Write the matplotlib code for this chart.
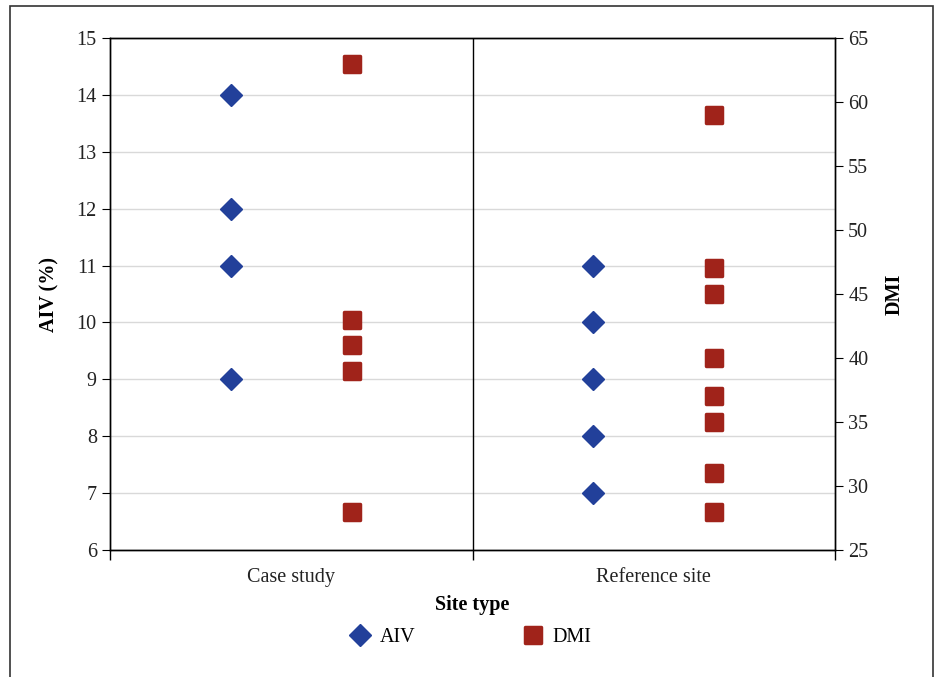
import numpy as np
import matplotlib.pyplot as plt
from matplotlib.markers import MarkerStyle
from matplotlib.patches import Rectangle

plt.rcParams['font.family'] = ['Liberation Serif', 'DejaVu Serif']

# data
categories = ['Case study', 'Reference site']
aiv_case = [14, 12, 11, 9]
aiv_ref = [11, 10, 9, 8, 7]
dmi_case = [63, 43, 41, 39, 28]
dmi_ref = [59, 47, 45, 40, 37, 35, 31, 28]

blue = '#22409a'
red = '#a0231a'
fs = 14.5

fig = plt.figure(figsize=(9.38, 6.77), dpi=100)
ax = fig.add_axes([110 / 938, 1 - 550 / 677, 725 / 938, 512 / 677])
ax2 = ax.twinx()

# outer frame
fig.patches.append(Rectangle((10 / 938, -0.02), 923 / 938, 1 - 6 / 677 + 0.02,
                             transform=fig.transFigure, fill=False,
                             edgecolor='#333333', lw=1.2))

# AIV on left axis, DMI on right; each series offset inside its category
x_aiv = [0 + 1 / 3] * len(aiv_case) + [1 + 1 / 3] * len(aiv_ref)
x_dmi = [0 + 2 / 3] * len(dmi_case) + [1 + 2 / 3] * len(dmi_ref)
ax.plot(x_aiv, aiv_case + aiv_ref, ls='none', marker='D', ms=11.5,
        color=blue, mec=blue, mew=1, label='AIV', zorder=3)
ax2.plot(x_dmi, dmi_case + dmi_ref, ls='none',
         marker=MarkerStyle('s', joinstyle='round'), ms=12,
         color=red, mec=red, mew=2.5, mfc=red, label='DMI', zorder=3)

ax.set_xlim(0, 2)
ax.set_ylim(6, 15)
ax2.set_ylim(25, 65)
ax.set_yticks(np.arange(6, 16, 1))
ax2.set_yticks(np.arange(25, 70, 5))

ax.grid(axis='y', color='#d9d9d9', lw=1)
ax.set_axisbelow(True)
ax.axvline(1, color='black', lw=1)

ax.set_xticks([0, 1, 2])
ax.set_xticklabels([])
ax.set_xticks([0.5, 1.5], minor=True)
ax.set_xticklabels(categories, minor=True)
ax.tick_params(axis='x', which='major', direction='out', length=7, width=1)
ax.tick_params(axis='x', which='minor', length=0, pad=13, labelsize=fs, labelcolor='#222222')
ax.tick_params(axis='y', direction='out', length=6, labelsize=fs, labelcolor='#222222')
ax2.tick_params(axis='y', direction='out', length=6, labelsize=fs, labelcolor='#222222')

for a in (ax, ax2):
    for s in a.spines.values():
        s.set_linewidth(1)
        s.set_color('black')

ax.set_ylabel('AIV (%)', fontweight='bold', fontsize=fs, labelpad=12)
ax2.set_ylabel('DMI', fontweight='bold', fontsize=fs, labelpad=12)
ax.set_xlabel('Site type', fontweight='bold', fontsize=fs, labelpad=6)

h1, l1 = ax.get_legend_handles_labels()
h2, l2 = ax2.get_legend_handles_labels()
fig.legend(h1 + h2, l1 + l2, loc='center', bbox_to_anchor=(0.502, 1 - 637 / 677),
           ncol=2, frameon=False, fontsize=fs, columnspacing=5.3,
           handletextpad=0.5, handlelength=1.0)

fig.savefig('out.png', dpi=100)
